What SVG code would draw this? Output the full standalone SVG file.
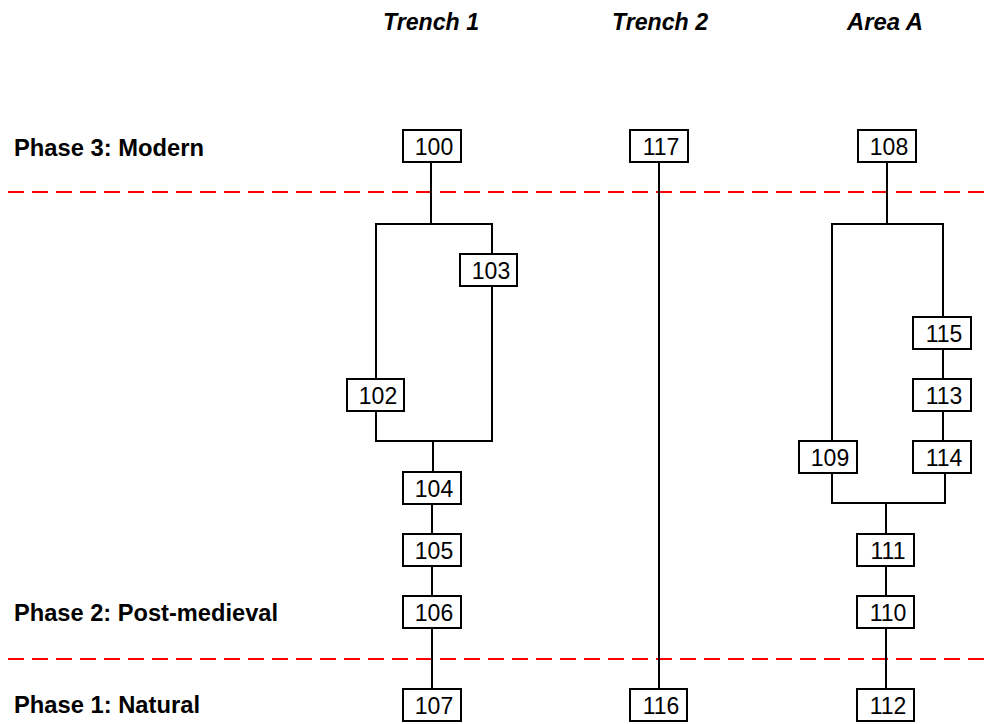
<svg xmlns="http://www.w3.org/2000/svg" width="985" height="724" viewBox="0 0 985 724">
<style>
.bg{fill:#fff}
.phase{stroke:#ff0000;stroke-width:2;stroke-dasharray:16 8;fill:none}
.c{stroke:#000;stroke-width:2;fill:none}
.box{fill:#fff;stroke:#000;stroke-width:2}
.num{font-family:"Liberation Sans",Arial,sans-serif;font-size:23px;fill:#000;text-anchor:middle}
.lbl{font-family:"Liberation Sans",Arial,sans-serif;font-size:23px;font-weight:bold;fill:#000}
.hdr{font-family:"Liberation Sans",Arial,sans-serif;font-size:23px;font-weight:bold;font-style:italic;fill:#000;text-anchor:middle}
</style>
<rect class="bg" width="985" height="724"/>
<g id="headers">
<text class="hdr" x="431" y="30" textLength="96" lengthAdjust="spacingAndGlyphs">Trench 1</text>
<text class="hdr" x="660" y="30" textLength="96" lengthAdjust="spacingAndGlyphs">Trench 2</text>
<text class="hdr" x="885" y="30" textLength="76" lengthAdjust="spacingAndGlyphs">Area A</text>
</g>
<g id="phases">
<text class="lbl" x="14" y="156" textLength="190" lengthAdjust="spacingAndGlyphs">Phase 3: Modern</text>
<text class="lbl" x="14" y="621" textLength="264" lengthAdjust="spacingAndGlyphs">Phase 2: Post-medieval</text>
<text class="lbl" x="14" y="713" textLength="186" lengthAdjust="spacingAndGlyphs">Phase 1: Natural</text>
<line class="phase" x1="8" y1="192" x2="985" y2="192"/>
<line class="phase" x1="8" y1="659" x2="985" y2="659"/>
</g>
<g id="connectors">
<polyline class="c" points="431,162 431,224"/>
<polyline class="c" points="376,379 376,224 492,224 492,254"/>
<polyline class="c" points="376,411 376,441 492,441 492,286"/>
<polyline class="c" points="433,441 433,472"/>
<line class="c" x1="432" y1="504" x2="432" y2="534"/>
<line class="c" x1="432" y1="566" x2="432" y2="596"/>
<line class="c" x1="432" y1="628" x2="432" y2="689"/>
<line class="c" x1="659" y1="162" x2="659" y2="689"/>
<polyline class="c" points="887,162 887,224"/>
<polyline class="c" points="832,441 832,224 943,224 943,317"/>
<line class="c" x1="943" y1="349" x2="943" y2="379"/>
<line class="c" x1="943" y1="411" x2="943" y2="441"/>
<polyline class="c" points="832,473 832,503 945,503 945,473"/>
<line class="c" x1="886" y1="503" x2="886" y2="534"/>
<line class="c" x1="886" y1="566" x2="886" y2="596"/>
<line class="c" x1="886" y1="628" x2="886" y2="689"/>
</g>
<g id="n100"><rect class="box" x="403" y="130" width="58" height="32"/><text class="num" x="434" y="155">100</text></g>
<g id="n117"><rect class="box" x="630" y="130" width="58" height="32"/><text class="num" x="661" y="155">117</text></g>
<g id="n108"><rect class="box" x="858" y="130" width="58" height="32"/><text class="num" x="889" y="155">108</text></g>
<g id="n103"><rect class="box" x="460" y="254" width="57" height="32"/><text class="num" x="491" y="279">103</text></g>
<g id="n102"><rect class="box" x="347" y="379" width="57" height="32"/><text class="num" x="378" y="404">102</text></g>
<g id="n104"><rect class="box" x="403" y="472" width="58" height="32"/><text class="num" x="434" y="497">104</text></g>
<g id="n105"><rect class="box" x="403" y="534" width="58" height="32"/><text class="num" x="434" y="559">105</text></g>
<g id="n106"><rect class="box" x="403" y="596" width="58" height="32"/><text class="num" x="434" y="621">106</text></g>
<g id="n107"><rect class="box" x="403" y="689" width="58" height="32"/><text class="num" x="434" y="714">107</text></g>
<g id="n116"><rect class="box" x="630" y="689" width="57" height="32"/><text class="num" x="661" y="714">116</text></g>
<g id="n115"><rect class="box" x="913" y="317" width="58" height="32"/><text class="num" x="944" y="342">115</text></g>
<g id="n113"><rect class="box" x="913" y="379" width="58" height="32"/><text class="num" x="944" y="404">113</text></g>
<g id="n114"><rect class="box" x="913" y="441" width="58" height="32"/><text class="num" x="944" y="466">114</text></g>
<g id="n109"><rect class="box" x="799" y="441" width="58" height="32"/><text class="num" x="830" y="466">109</text></g>
<g id="n111"><rect class="box" x="857" y="534" width="57" height="32"/><text class="num" x="888" y="559">111</text></g>
<g id="n110"><rect class="box" x="857" y="596" width="57" height="32"/><text class="num" x="888" y="621">110</text></g>
<g id="n112"><rect class="box" x="857" y="689" width="57" height="32"/><text class="num" x="888" y="714">112</text></g>
</svg>
